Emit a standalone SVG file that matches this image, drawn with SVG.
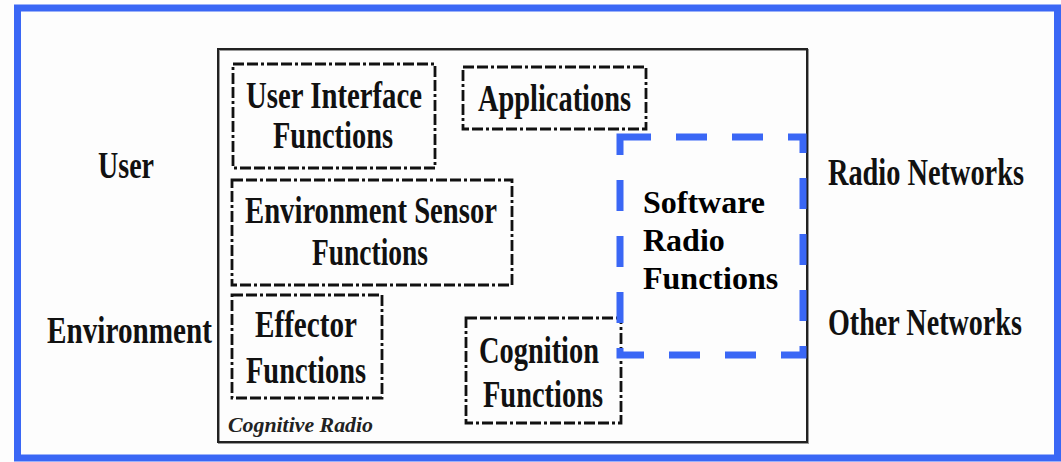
<svg xmlns="http://www.w3.org/2000/svg" width="1061" height="462" viewBox="0 0 1061 462">
<style>
  .lbl { font-family: "Liberation Serif", "Times New Roman", serif; font-weight: bold; font-size: 37px; fill: #111; }
  .sr { font-family: "Liberation Serif", "Times New Roman", serif; font-weight: bold; font-size: 32px; fill: #000; }
  .cr { font-family: "Liberation Serif", "Times New Roman", serif; font-weight: bold; font-style: italic; font-size: 22px; fill: #222; }
  .fn { fill: none; stroke: #111; stroke-width: 2.8; stroke-dasharray: 11 3 11 3 3 3; }
  .blue { fill: none; stroke: #3a67f5; }
</style>
<rect x="0" y="0" width="1061" height="462" fill="#fdfdfd"/>
<g id="frame">
  <rect class="blue" x="17.5" y="8" width="1040" height="450" stroke-width="7"/>
</g>
<g id="cognitive-radio">
  <rect x="219" y="50" width="589" height="393" fill="none" stroke="#999" stroke-width="2"/>
  <rect x="218" y="49" width="589" height="393" fill="none" stroke="#222" stroke-width="2"/>
  <text class="cr" x="228" y="432" textLength="145" lengthAdjust="spacingAndGlyphs">Cognitive Radio</text>
</g>
<g id="user-interface">
  <rect class="fn" x="233" y="64" width="202" height="104"/>
  <text class="lbl" x="246" y="108" textLength="176" lengthAdjust="spacingAndGlyphs">User Interface</text>
  <text class="lbl" x="273" y="148" textLength="120" lengthAdjust="spacingAndGlyphs">Functions</text>
</g>
<g id="applications">
  <rect class="fn" x="463" y="67" width="183" height="62"/>
  <text class="lbl" x="478" y="111" textLength="153" lengthAdjust="spacingAndGlyphs">Applications</text>
</g>
<g id="environment-sensor">
  <rect class="fn" x="232" y="180" width="280" height="105"/>
  <text class="lbl" x="245" y="223" textLength="252" lengthAdjust="spacingAndGlyphs">Environment Sensor</text>
  <text class="lbl" x="312" y="265" textLength="116" lengthAdjust="spacingAndGlyphs">Functions</text>
</g>
<g id="effector">
  <rect class="fn" x="232" y="295" width="150" height="103"/>
  <text class="lbl" x="255" y="337" textLength="102" lengthAdjust="spacingAndGlyphs">Effector</text>
  <text class="lbl" x="246" y="383" textLength="120" lengthAdjust="spacingAndGlyphs">Functions</text>
</g>
<g id="cognition">
  <rect class="fn" x="466" y="318" width="155" height="105"/>
  <text class="lbl" x="479" y="363" textLength="120" lengthAdjust="spacingAndGlyphs">Cognition</text>
  <text class="lbl" x="483" y="407" textLength="120" lengthAdjust="spacingAndGlyphs">Functions</text>
</g>
<g id="software-radio">
  <rect class="blue" x="620" y="137" width="183" height="218" stroke-width="7" stroke-dasharray="31 25"/>
  <text class="sr" x="643" y="213">Software</text>
  <text class="sr" x="643" y="251">Radio</text>
  <text class="sr" x="643" y="289">Functions</text>
</g>
<g id="user">
  <text class="lbl" x="98" y="178" textLength="56" lengthAdjust="spacingAndGlyphs">User</text>
</g>
<g id="environment">
  <text class="lbl" x="47" y="343" textLength="165" lengthAdjust="spacingAndGlyphs">Environment</text>
</g>
<g id="radio-networks">
  <text class="lbl" transform="translate(828,185) scale(0.766,1)" x="0" y="0">Radio Networks</text>
</g>
<g id="other-networks">
  <text class="lbl" transform="translate(828,335) scale(0.76,1)" x="0" y="0">Other Networks</text>
</g>
<g id="connectors"/>
</svg>
